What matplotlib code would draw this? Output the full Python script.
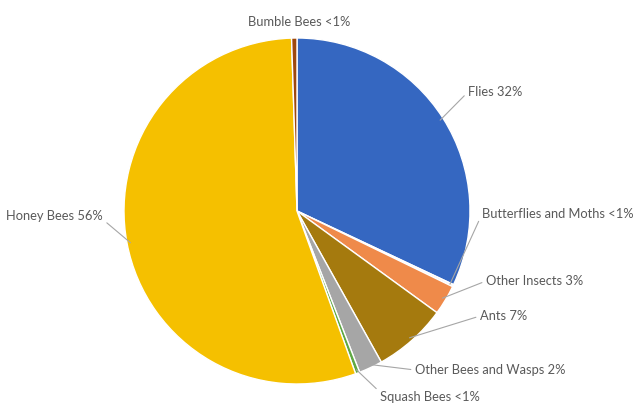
import numpy as np
import matplotlib.pyplot as plt

# slices in clockwise order starting at 12 o'clock
labels = ['Flies', 'Butterflies and Moths', 'Other Insects', 'Ants',
          'Other Bees and Wasps', 'Squash Bees', 'Honey Bees', 'Bumble Bees']
shares = [32.0, 0.2, 2.8, 6.9, 2.2, 0.4, 55.0, 0.5]
pct_text = ['32%', '<1%', '3%', '7%', '2%', '<1%', '56%', '<1%']
colors = ['#3567C1', '#F1F1F1', '#EF8A4A', '#A57A0E', '#A6A6A6', '#5FA843', '#F5C000', '#9E480E']

# label text anchor (pixel coords of the 636x407 picture) and alignment
label_pos = [(468, 92), (482, 214), (486, 281), (480, 316),
             (415, 370), (380, 397), (103, 216), (248, 22)]
label_ha = ['left', 'left', 'left', 'left', 'left', 'left', 'right', 'left']
has_line = [True, True, True, True, True, True, True, False]

W, H = 636, 407
cx, cy, R = 297, 211, 173

fig = plt.figure(figsize=(W / 100, H / 100), dpi=100)
ax = fig.add_axes([0, 0, 1, 1])

wedges, _ = ax.pie(shares, colors=colors, startangle=90, counterclock=False,
                   radius=1, center=(0, 0),
                   wedgeprops=dict(edgecolor='white', linewidth=1.0))
ax.set_xlim(-cx / R, (W - cx) / R)
ax.set_ylim(-(H - cy) / R, cy / R)
ax.set_aspect('equal')
ax.axis('off')


def to_data(px, py):
    return (px - cx) / R, (cy - py) / R


for w, lab, pct, pos, ha, line in zip(wedges, labels, pct_text, label_pos, label_ha, has_line):
    mid = np.deg2rad((w.theta1 + w.theta2) / 2)
    edge = (0.98 * np.cos(mid), 0.98 * np.sin(mid))
    tx, ty = to_data(*pos)
    if line:
        relpos = (1, 0.2) if ha == 'right' else (0, 0.5)
        if lab == 'Squash Bees':
            relpos = (0, 0.9)
        ax.annotate(f'{lab} {pct}', xy=edge, xytext=(tx, ty),
                    ha=ha, va='center', fontsize=9.3, color='#595959',
                    family='Lato',
                    arrowprops=dict(arrowstyle='-', color='#A6A6A6', lw=0.8,
                                    relpos=relpos, shrinkA=1, shrinkB=0))
    else:
        ax.text(tx, ty, f'{lab} {pct}', ha=ha, va='center', fontsize=9.3,
                color='#595959', family='Lato')

fig.savefig('out.png', dpi=100)
